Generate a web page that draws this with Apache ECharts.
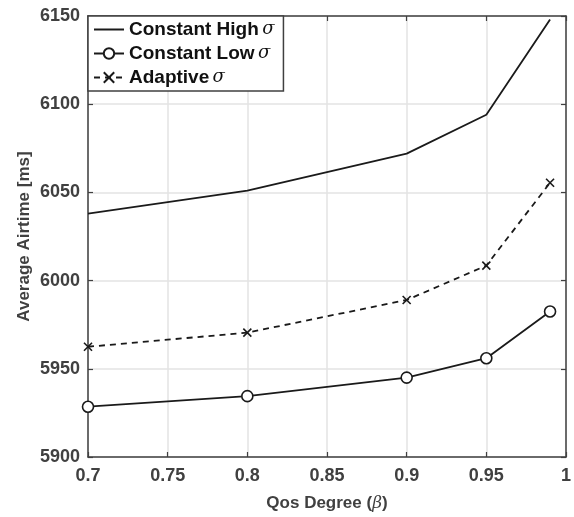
<!DOCTYPE html>
<html>
<head>
<meta charset="utf-8">
<script src="https://cdn.jsdelivr.net/npm/echarts@6/dist/echarts.min.js"></script>
<style>
  html, body { margin: 0; padding: 0; background: #fff; }
  #chart { width: 574px; height: 517px; }
</style>
</head>
<body>
<div id="chart"></div>
<script>
// QoS degree (beta) values along the x axis
const qosDegree = [0.7, 0.8, 0.9, 0.95, 0.99];
// Average airtime in ms for each sigma strategy
const constantHigh = [6038, 6051, 6072, 6094, 6148];
const constantLow = [5928.5, 5934.5, 5945, 5956, 5982.5];
const adaptive = [5962.5, 5970.5, 5989, 6008.5, 6055.5];
// Series names and axis tick settings
const seriesNames = ['Constant High', 'Constant Low', 'Adaptive'];
const xTicks = { min: 0.7, max: 1, step: 0.05 };
const yTicks = { min: 5900, max: 6150, step: 50 };

const textColor = '#404040';
const fontFamily = 'Liberation Sans, Arial, sans-serif';
const lineColor = '#1a1a1a';

const pairs = (ys) => qosDegree.map((x, i) => [x, ys[i]]);

const chart = echarts.init(document.getElementById('chart'));

const baseAxisLine = { show: true, onZero: false, lineStyle: { color: textColor, width: 1.5 } };
const tickInside = { show: true, inside: true, length: 5, lineStyle: { color: textColor, width: 1.2 } };

chart.setOption({
  animation: false,
  backgroundColor: '#fff',
  grid: { left: 88, right: 4, top: 16, bottom: 52, containLabel: false },
  legend: {
    left: 88,
    top: 16,
    orient: 'vertical',
    data: [
      // the solid line has no marker, so its legend icon is the line alone
      { name: seriesNames[0], itemStyle: { color: 'transparent', borderColor: 'transparent', opacity: 0 } },
      { name: seriesNames[1] },
      { name: seriesNames[2] }
    ],
    backgroundColor: '#fff',
    borderColor: textColor,
    borderWidth: 1.5,
    padding: [4, 9, 4, 5],
    itemGap: 5,
    itemWidth: 30,
    itemHeight: 13,
    formatter: (name) => '{b|' + name + '} {s|σ}',
    textStyle: {
      rich: {
        b: { fontFamily, fontWeight: 'bold', fontSize: 19, color: '#111' },
        s: { fontFamily: 'DejaVu Serif, serif', fontStyle: 'italic', fontSize: 18, color: '#111' }
      }
    }
  },
  xAxis: [
    {
      type: 'value',
      min: xTicks.min,
      max: xTicks.max,
      interval: xTicks.step,
      position: 'bottom',
      name: '{b|Qos Degree (}{s|β}{b|)}',
      nameLocation: 'middle',
      nameGap: 38,
      nameMoveOverlap: false,
      nameTextStyle: {
        rich: {
          b: { fontFamily, fontWeight: 'bold', fontSize: 17, color: textColor },
          s: { fontFamily: 'DejaVu Serif, serif', fontStyle: 'italic', fontSize: 17, color: textColor }
        }
      },
      axisLine: baseAxisLine,
      axisTick: tickInside,
      splitLine: { show: true, lineStyle: { color: '#e3e3e3', width: 1.5 } },
      axisLabel: {
        color: textColor, fontFamily, fontWeight: 'bold', fontSize: 18, margin: 10,
        formatter: (v) => String(+v.toFixed(2))
      }
    },
    {
      type: 'value',
      min: xTicks.min,
      max: xTicks.max,
      interval: xTicks.step,
      position: 'top',
      axisLine: baseAxisLine,
      axisTick: tickInside,
      splitLine: { show: false },
      axisLabel: { show: false }
    }
  ],
  yAxis: [
    {
      type: 'value',
      min: yTicks.min,
      max: yTicks.max,
      interval: yTicks.step,
      position: 'left',
      name: 'Average Airtime [ms]',
      nameLocation: 'middle',
      nameGap: 55,
      nameMoveOverlap: false,
      nameTextStyle: { fontFamily, fontWeight: 'bold', fontSize: 17, color: textColor },
      axisLine: baseAxisLine,
      axisTick: tickInside,
      splitLine: { show: true, lineStyle: { color: '#e3e3e3', width: 1.5 } },
      axisLabel: {
        color: textColor, fontFamily, fontWeight: 'bold', fontSize: 18, margin: 8,
        formatter: (v) => String(v)
      }
    },
    {
      type: 'value',
      min: yTicks.min,
      max: yTicks.max,
      interval: yTicks.step,
      position: 'right',
      axisLine: baseAxisLine,
      axisTick: tickInside,
      splitLine: { show: false },
      axisLabel: { show: false }
    }
  ],
  series: [
    {
      name: seriesNames[0],
      type: 'line',
      data: pairs(constantHigh),
      symbol: 'none',
      lineStyle: { color: lineColor, width: 1.8 },
      itemStyle: { color: lineColor },
      z: 3
    },
    {
      name: seriesNames[1],
      type: 'line',
      data: pairs(constantLow),
      symbol: 'circle',
      symbolSize: 11,
      lineStyle: { color: lineColor, width: 1.8 },
      itemStyle: { color: '#fff', borderColor: lineColor, borderWidth: 1.6 },
      z: 3
    },
    {
      name: seriesNames[2],
      type: 'line',
      data: pairs(adaptive),
      symbol: 'path://M0,0L10,10M10,0L0,10',
      symbolSize: 8,
      lineStyle: { color: lineColor, width: 1.8, type: [6, 5] },
      itemStyle: { color: lineColor, borderColor: lineColor, borderWidth: 1.6 },
      z: 3
    }
  ]
});
</script>
</body>
</html>
